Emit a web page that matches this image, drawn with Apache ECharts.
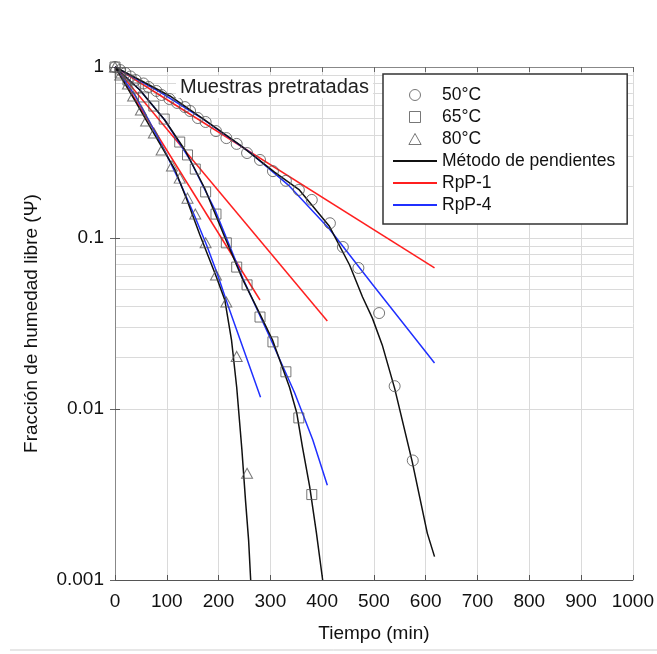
<!DOCTYPE html>
<html>
<head>
<meta charset="utf-8">
<script src="https://cdn.jsdelivr.net/npm/echarts@6/dist/echarts.min.js"></script>
<style>
  html, body { margin: 0; padding: 0; background: #fff; }
  #chart { width: 657px; height: 654px; }
</style>
</head>
<body>
<div id="chart"></div>
<script>
// Measured drying points: time (min) and free-moisture fraction Ψ
const t50 = [0,10,20,30,40,55,65,80,90,105,120,135,145,160,175,195,215,235,255,280,305,330,355,380,415,440,470,510,540,575];
const psi50 = [1.0,0.960,0.922,0.880,0.839,0.801,0.764,0.724,0.686,0.650,0.616,0.583,0.553,0.503,0.477,0.422,0.384,0.355,0.314,0.286,0.246,0.216,0.191,0.167,0.122,0.0886,0.0668,0.0364,0.0136,0.0050];

const t65 = [0,10,25,40,55,75,95,125,140,155,175,195,215,235,255,280,305,330,355,380];
const psi65 = [1.0,0.922,0.839,0.754,0.668,0.591,0.496,0.364,0.306,0.253,0.186,0.138,0.0937,0.0676,0.0532,0.0345,0.0247,0.0165,0.00887,0.00316];

const t80 = [0,10,25,35,50,60,75,90,110,125,140,155,175,195,215,235,255];
const psi80 = [1.0,0.898,0.795,0.677,0.560,0.483,0.411,0.327,0.264,0.224,0.171,0.138,0.0937,0.0607,0.0422,0.0203,0.00421];

// Método de pendientes curves
const mp50T = [0,48,106,173,241,308,356,414,453,478,497,516,540,574,603,617];
const mp50 = [1.0,0.839,0.677,0.490,0.350,0.243,0.191,0.117,0.0695,0.0452,0.0340,0.0237,0.0132,0.00491,0.00188,0.00137];
const mp65T = [0,48,96,135,173,212,247,279,304,337,351,362,376,389,401];
const mp65 = [1.0,0.734,0.490,0.327,0.196,0.101,0.0569,0.0364,0.0254,0.0134,0.00947,0.00599,0.00350,0.00188,0.001];
const mp80T = [0,38,77,116,139,164,196,212,225,235,245,252,258,262];
const mp80 = [1.0,0.641,0.400,0.250,0.167,0.104,0.0589,0.0434,0.0253,0.0134,0.0058,0.00292,0.00171,0.001];

// RpP-1 fits
const r1_50T = [0,617], r1_50 = [1.0,0.0668];
const r1_65T = [0,410], r1_65 = [1.0,0.0327];
const r1_80T = [0,280], r1_80 = [1.0,0.0434];

// RpP-4 fits
const r4_50T = [0,87,164,260,337,414,497,617];
const r4_50 = [1.0,0.714,0.510,0.318,0.201,0.113,0.0537,0.0186];
const r4_65T = [0,48,96,145,193,247,299,347,382,410];
const r4_65 = [1.0,0.734,0.490,0.286,0.146,0.058,0.0263,0.0124,0.00658,0.00358];
const r4_80T = [0,38,67,96,125,154,177,197,218,281];
const r4_80 = [1.0,0.686,0.477,0.323,0.213,0.134,0.0907,0.0624,0.0405,0.0117];

const xTicks = [0,100,200,300,400,500,600,700,800,900,1000];
const yTickLabels = ['1','0.1','0.01','0.001'];
const decades = [0.001, 0.01, 0.1];
const minorSteps = [2,3,4,5,6,7,8,9];

const FONT = "'Liberation Sans', Arial, sans-serif";
const MARKER = '#555';
const GRID = '#dadada';
const pair = (xs, ys) => xs.map((x, i) => [x, ys[i]]);

// Log-scale minor grid at 2..9 × each decade
const minorGrid = [];
decades.forEach(d => minorSteps.forEach(m => minorGrid.push({ yAxis: +(d * m).toPrecision(3) })));

// Hollow marker shapes (square and triangle as paths so the legend keeps their proportions)
const SQUARE = 'path://M0,0 L10,0 L10,10 L0,10 Z';
const TRIANGLE = 'path://M5,0 L10,9 L0,9 Z';
const hollow = { color: 'rgba(0,0,0,0)', borderColor: MARKER, borderWidth: 1 };
const noSymbol = { color: 'rgba(0,0,0,0)', borderWidth: 0 };

function scatter(name, symbol, size, xs, ys) {
  return {
    type: 'scatter', name, symbol, symbolSize: size, z: 5,
    itemStyle: hollow,
    data: pair(xs, ys)
  };
}
function curve(name, color, xs, ys) {
  return {
    type: 'line', name, symbol: 'none', z: 4,
    lineStyle: { color, width: 1.5 }, itemStyle: { color },
    data: pair(xs, ys)
  };
}

const chart = echarts.init(document.getElementById('chart'), null, { renderer: 'canvas' });

chart.setOption({
  animation: false,
  backgroundColor: '#fff',
  textStyle: { fontFamily: FONT },
  title: {
    text: 'Muestras pretratadas',
    left: 176, top: 76, z: 6,
    padding: [1, 4],
    backgroundColor: '#fff',
    textStyle: { fontFamily: FONT, fontSize: 20, fontWeight: 'normal', color: '#222' }
  },
  grid: { left: 115, right: 23, top: 67, bottom: 74 },
  legend: {
    orient: 'vertical',
    left: 383, top: 74, z: 6,
    padding: [12, 12, 10, 9],
    backgroundColor: '#fff',
    borderColor: '#333', borderWidth: 1.5,
    itemWidth: 44, itemHeight: 11, itemGap: 4,
    symbolKeepAspect: true,
    textStyle: { fontFamily: FONT, fontSize: 17.5, color: '#111', lineHeight: 18 },
    data: [
      { name: '50°C', icon: 'circle', itemStyle: hollow },
      { name: '65°C', icon: SQUARE, itemStyle: hollow },
      { name: '80°C', icon: TRIANGLE, itemStyle: hollow },
      { name: 'Método de pendientes', itemStyle: noSymbol },
      { name: 'RpP-1', itemStyle: noSymbol },
      { name: 'RpP-4', itemStyle: noSymbol }
    ]
  },
  xAxis: [{
    type: 'value', min: 0, max: 1000, interval: 100, position: 'bottom',
    name: 'Tiempo (min)', nameLocation: 'middle', nameGap: 44,
    nameTextStyle: { fontFamily: FONT, fontSize: 19, color: '#111' },
    axisLine: { lineStyle: { color: '#555', width: 1 } },
    axisTick: { inside: true, length: 5, lineStyle: { color: '#555' } },
    axisLabel: { fontFamily: FONT, fontSize: 19, color: '#111', margin: 12,
      formatter: v => xTicks.includes(v) ? String(v) : '' },
    splitLine: { show: true, lineStyle: { color: GRID, width: 1 } }
  }, {
    type: 'value', min: 0, max: 1000, interval: 100, position: 'top',
    axisLine: { lineStyle: { color: '#888', width: 1 } },
    axisTick: { inside: true, length: 5, lineStyle: { color: '#666' } },
    axisLabel: { show: false }, splitLine: { show: false }
  }],
  yAxis: [{
    type: 'log', logBase: 10, min: 0.001, max: 1, position: 'left',
    name: 'Fracción de humedad libre (Ψ)', nameLocation: 'middle', nameGap: 74, nameRotate: 90,
    nameTextStyle: { fontFamily: FONT, fontSize: 19, color: '#111' },
    axisLine: { lineStyle: { color: '#555', width: 1 } },
    axisTick: { inside: true, length: 5, lineStyle: { color: '#555' } },
    axisLabel: { fontFamily: FONT, fontSize: 19, color: '#111', margin: 11,
      formatter: v => yTickLabels[Math.round(-Math.log10(v))] },
    splitLine: { show: true, lineStyle: { color: GRID, width: 1 } }
  }, {
    type: 'log', logBase: 10, min: 0.001, max: 1, position: 'right',
    axisLine: { lineStyle: { color: '#888', width: 1 } },
    axisTick: { inside: true, length: 5, lineStyle: { color: '#666' } },
    axisLabel: { show: false }, splitLine: { show: false }
  }],
  graphic: [{
    type: 'line', shape: { x1: 10, y1: 650, x2: 657, y2: 650 },
    style: { stroke: '#cfcfcf', lineWidth: 1 }, silent: true
  }],
  series: [
    {
      type: 'line', name: '_minorGrid', data: [], silent: true, z: 0,
      markLine: {
        silent: true, symbol: 'none', z: 0, label: { show: false },
        lineStyle: { color: GRID, width: 1, type: 'solid' },
        data: minorGrid
      }
    },
    curve('RpP-1', '#ff1f1f', r1_50T, r1_50),
    curve('RpP-1', '#ff1f1f', r1_65T, r1_65),
    curve('RpP-1', '#ff1f1f', r1_80T, r1_80),
    curve('RpP-4', '#2030ff', r4_50T, r4_50),
    curve('RpP-4', '#2030ff', r4_65T, r4_65),
    curve('RpP-4', '#2030ff', r4_80T, r4_80),
    curve('Método de pendientes', '#111', mp50T, mp50),
    curve('Método de pendientes', '#111', mp65T, mp65),
    curve('Método de pendientes', '#111', mp80T, mp80),
    scatter('50°C', 'circle', 11, t50, psi50),
    scatter('65°C', SQUARE, 10, t65, psi65),
    scatter('80°C', TRIANGLE, [11, 10], t80, psi80)
  ]
});
</script>
</body>
</html>
